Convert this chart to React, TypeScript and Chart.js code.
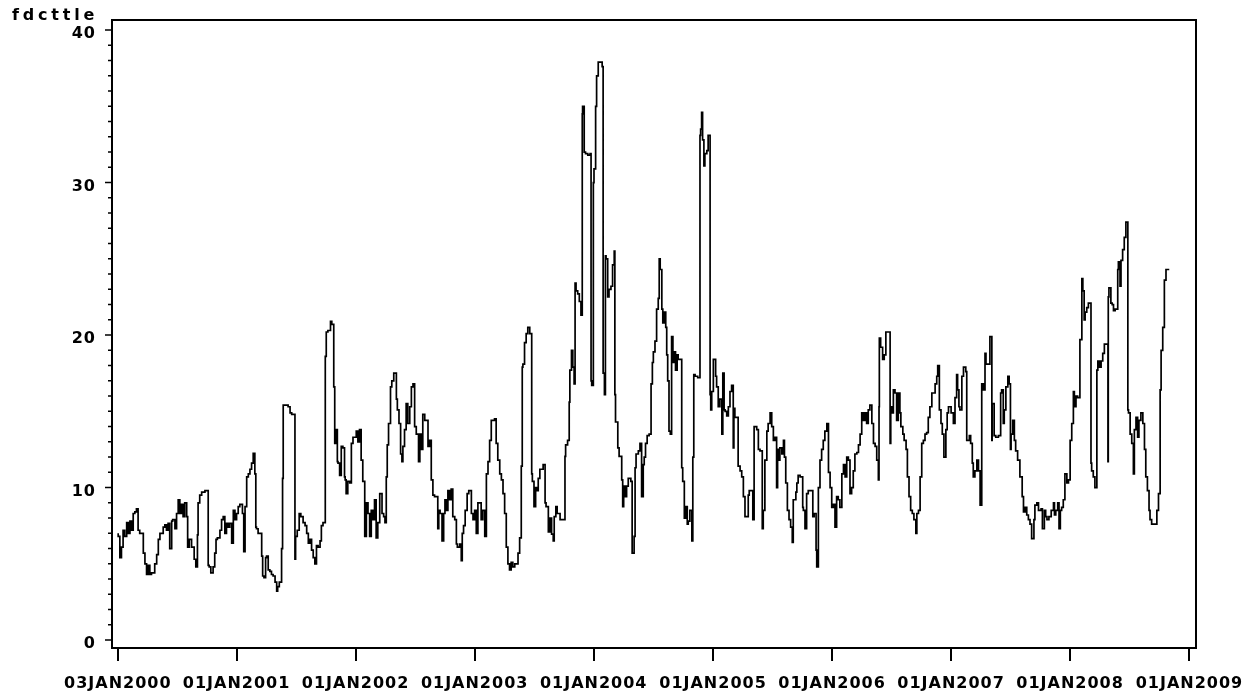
import React, { useEffect, useRef } from 'react';
import { Chart, registerables } from 'chart.js';

Chart.register(...registerables);

// Series: fdcttle, weekly-ish observations; x = days elapsed since 03JAN2000
const daysSeg1 = [
  1, 6, 11, 16, 21, 27, 32, 37, 42, 47,
  52, 57, 62, 67, 78, 83, 88, 93, 98, 103,
  113, 119, 124, 129, 139, 144, 149, 154, 159, 165,
  168, 175, 180, 185, 190, 195, 200, 205, 211, 214,
  219, 226, 234, 239, 244, 246, 251, 257, 267, 277,
  280, 285, 292, 297, 301, 305, 313, 318, 323, 328,
  333, 338, 343, 349, 354, 359, 364, 369, 374, 382,
  386, 390, 395, 400, 405, 410, 415, 420, 423, 425,
  430, 436, 441, 444, 448, 453, 456, 461, 466, 471,
  476, 482, 487, 490, 495, 502, 505, 507, 512, 522,
  528, 533, 543, 545, 550, 556, 561, 568, 574, 579,
  584, 589, 594, 599, 604, 609, 614, 620,
];
const fdcttleSeg1 = [
  7.0, 6.8, 5.4, 6.1, 7.2, 6.8, 7.7, 7.0, 7.8, 7.2,
  8.3, 8.4, 8.6, 7.2, 7.0, 5.7, 5.0, 4.3, 4.9, 4.3,
  4.4, 5.0, 5.6, 6.6, 7.0, 7.4, 7.55, 7.2, 7.65, 6.0,
  7.8, 7.9, 7.3, 8.3, 9.2, 8.3, 8.9, 8.1, 9.0, 8.1,
  6.1, 6.6, 6.1, 5.3, 4.8, 6.9, 9.0, 9.5, 9.7, 9.8,
  4.9, 4.8, 4.4, 4.8, 5.7, 6.6, 6.7, 7.2, 7.9, 8.1,
  7.0, 7.65, 7.4, 7.65, 6.35, 8.5, 7.9, 8.3, 8.75, 8.9,
  8.3, 5.8, 8.75, 10.7, 10.9, 11.2, 11.6, 12.25, 10.9, 7.4,
  7.3, 7.0, 7.0, 5.5, 4.2, 4.1, 5.4, 5.5, 4.6, 4.5,
  4.3, 4.2, 3.8, 3.2, 3.5, 3.8, 6.0, 10.6, 15.4, 15.4,
  15.3, 14.9, 14.8, 5.3, 6.8, 7.2, 8.3, 8.1, 7.7, 7.5,
  7.0, 6.35, 6.6, 5.9, 5.4, 5.0, 6.2, 6.1,
];

const daysSeg2 = [
  624, 629, 636, 639, 644, 652, 656, 662, 665, 670,
  673, 675, 680, 685, 690, 695, 697, 700, 705, 711,
  716, 721, 731, 736, 741, 746, 751, 757, 762, 767,
  772, 777, 782, 787, 792, 797, 803, 810, 815, 819,
  823, 826, 830, 836, 840, 846, 854, 857, 862, 867,
  871, 874, 879, 884, 889, 895, 900, 905, 910, 915,
  922, 926, 930, 935, 941, 951, 956, 961, 966, 971,
  981, 984, 988, 994, 999, 1003, 1007, 1012, 1017, 1022,
  1027, 1033, 1038, 1041, 1048, 1053, 1056, 1060, 1065, 1071,
  1076, 1084, 1089, 1094, 1099, 1104, 1109, 1114, 1119, 1125,
  1130, 1135, 1140, 1145, 1155, 1160, 1165, 1171, 1176, 1181,
  1186, 1191, 1196, 1201, 1206, 1211, 1217, 1227, 1232, 1237,
  1240, 1242, 1247, 1252, 1257, 1263,
];
const fdcttleSeg2 = [
  6.5, 7.5, 7.7, 18.6, 20.2, 20.3, 20.9, 20.7, 16.6, 12.9,
  13.8, 11.7, 11.6, 10.8, 12.7, 12.6, 10.7, 10.5, 9.6, 10.4,
  10.3, 12.9, 13.3, 13.7, 13.0, 13.8, 11.8, 10.4, 6.8, 9.0,
  8.3, 6.8, 8.5, 7.9, 9.2, 6.7, 7.7, 9.6, 8.3, 8.1,
  7.7, 10.7, 12.8, 14.2, 16.6, 17.0, 17.5, 15.8, 15.1, 14.2,
  12.2, 11.7, 12.7, 13.8, 15.5, 14.2, 15.3, 16.6, 16.8, 14.0,
  13.5, 11.7, 13.5, 12.5, 14.8, 14.4, 12.7, 13.1, 10.5, 9.5,
  9.4, 7.3, 8.5, 8.3, 6.5, 8.3, 9.2, 8.5, 9.8, 9.2,
  9.9, 8.1, 7.9, 6.3, 6.1, 6.3, 5.2, 7.0, 7.5, 8.5,
  9.6, 9.8, 8.3, 7.9, 8.5, 7.0, 9.0, 9.0, 7.9, 8.5,
  6.8, 10.9, 11.7, 13.1, 14.4, 14.5, 12.9, 11.8, 10.9, 10.5,
  9.6, 8.3, 6.1, 5.0, 4.6, 5.1, 4.8, 5.0, 5.7, 6.7,
  11.4, 17.9, 18.1, 19.5, 20.1, 20.5,
];

const daysSeg3 = [
  1269, 1271, 1276, 1281, 1284, 1289, 1294, 1304, 1310, 1313,
  1320, 1325, 1330, 1335, 1338, 1343, 1347, 1356, 1366, 1371,
  1373, 1379, 1384, 1386, 1391, 1395, 1399, 1402, 1405, 1410,
  1415, 1420, 1424, 1425, 1430, 1434, 1441, 1448, 1451, 1453,
  1458, 1460, 1465, 1468, 1473, 1478, 1485, 1488, 1492, 1495,
  1497, 1502, 1506, 1512, 1517, 1522, 1524, 1526, 1533, 1537,
  1545, 1548, 1551, 1555, 1560, 1565, 1573, 1577, 1583, 1586,
  1589, 1596, 1601, 1606, 1611, 1614, 1618, 1623, 1629, 1635,
  1639, 1642, 1647, 1652, 1657, 1660, 1663, 1668, 1671, 1676,
  1680, 1683, 1686, 1690, 1694, 1698, 1702, 1706, 1710, 1715,
  1718, 1729, 1732, 1737, 1741, 1746, 1749, 1754, 1760, 1763,
  1766, 1770, 1778, 1785, 1787, 1790, 1793, 1797, 1800, 1806,
  1810, 1816, 1818, 1821, 1826, 1833, 1836, 1841, 1846, 1852,
  1855, 1859, 1862, 1867, 1872, 1877,
];
const fdcttleSeg3 = [
  20.1, 10.9, 10.4, 8.75, 10.0, 9.8, 10.6, 11.2, 11.5, 9.0,
  8.75, 7.1, 8.0, 6.95, 6.5, 8.1, 8.75, 8.3, 7.9, 7.9,
  12.05, 12.8, 13.1, 15.6, 17.7, 19.0, 17.9, 16.8, 23.4, 22.9,
  22.7, 22.2, 21.3, 34.5, 35.0, 32.0, 31.9, 31.8, 31.9, 17.0,
  16.7, 30.0, 30.9, 35.0, 37.0, 37.9, 37.9, 37.6, 17.5, 16.1,
  25.2, 25.0, 22.5, 23.0, 23.2, 24.6, 25.5, 16.1, 14.3, 12.6,
  12.05, 10.5, 8.75, 10.1, 9.4, 10.1, 10.6, 10.4, 5.7, 6.8,
  11.3, 12.2, 12.4, 12.9, 9.4, 11.5, 12.0, 12.9, 13.4, 13.5,
  16.8, 18.2, 18.9, 19.6, 21.7, 22.4, 25.0, 24.3, 21.7, 20.8,
  21.5, 20.5, 18.7, 17.0, 13.7, 13.5, 19.9, 18.2, 18.9, 17.7,
  18.7, 18.4, 11.3, 10.4, 8.0, 8.75, 7.6, 7.8, 8.5, 6.5,
  12.0, 17.4, 17.3, 17.2, 33.1, 33.5, 34.6, 32.8, 31.1, 31.9,
  32.1, 33.1, 16.1, 15.1, 16.3, 18.4, 17.3, 16.6, 15.3, 15.8,
  13.5, 17.5, 15.1, 15.0, 14.7, 15.3,
];

const daysSeg4 = [
  1882, 1887, 1889, 1892, 1898, 1902, 1908, 1913, 1918, 1923,
  1926, 1933, 1936, 1941, 1947, 1951, 1953, 1959, 1964, 1969,
  1976, 1979, 1984, 1990, 1994, 2000, 2005, 2010, 2015, 2020,
  2023, 2027, 2030, 2036, 2041, 2044, 2048, 2053, 2058, 2063,
  2068, 2071, 2074, 2079, 2082, 2086, 2092, 2100, 2102, 2107,
  2112, 2117, 2122, 2131, 2135, 2141, 2143, 2148, 2153, 2158,
  2163, 2168, 2174, 2179, 2184, 2189, 2194, 2199, 2204, 2209,
  2214, 2220, 2225, 2230, 2235, 2240, 2245, 2250, 2255, 2260,
  2266, 2271, 2276, 2281, 2286, 2291, 2296, 2301, 2306, 2312,
  2317, 2322, 2327, 2332, 2334, 2335, 2339, 2345, 2350, 2355,
  2359, 2368, 2370, 2373, 2378, 2383, 2388, 2393, 2398, 2401,
  2407, 2411, 2417, 2421, 2426, 2431, 2436, 2441, 2447, 2450,
  2455, 2460, 2465, 2470, 2475, 2480, 2485, 2490, 2496, 2501,
  2506,
];
const fdcttleSeg4 = [
  16.3, 16.7, 12.6, 15.2, 14.6, 14.6, 11.4, 11.1, 10.7, 9.4,
  8.1, 8.1, 9.5, 9.8, 9.8, 7.9, 14.0, 14.0, 13.8, 12.5,
  12.4, 7.3, 8.5, 11.8, 13.7, 14.2, 14.9, 14.0, 13.1, 13.3,
  10.0, 12.5, 11.8, 12.6, 12.2, 13.1, 12.0, 10.3, 8.5, 7.9,
  7.4, 6.4, 9.2, 9.2, 9.7, 10.3, 10.8, 10.7, 8.7, 8.5,
  7.3, 9.6, 9.8, 9.8, 8.1, 8.3, 5.9, 4.8, 10.0, 11.8,
  12.5, 13.1, 13.7, 14.2, 11.0, 10.0, 8.7, 8.9, 7.4, 9.4,
  9.2, 8.7, 10.9, 11.5, 10.7, 12.0, 11.8, 9.6, 10.0, 11.1,
  12.2, 12.3, 12.8, 13.5, 14.9, 14.4, 14.9, 14.2, 15.1, 15.4,
  14.2, 12.9, 12.7, 11.8, 10.5, 15.3, 19.8, 19.2, 18.4, 18.7,
  20.2, 20.2, 12.9, 15.3, 14.9, 16.4, 16.2, 14.4, 16.2, 14.9,
  14.0, 13.5, 13.1, 12.5, 10.7, 9.4, 8.5, 8.3, 7.9, 7.0,
  8.3, 8.5, 10.7, 12.9, 13.1, 13.5, 13.6, 14.6, 15.3, 16.2,
  16.2,
];

const daysSeg5 = [
  2511, 2514, 2519, 2524, 2528, 2533, 2539, 2543, 2547, 2555,
  2562, 2567, 2572, 2575, 2579, 2582, 2588, 2593, 2600, 2603,
  2605, 2611, 2615, 2620, 2623, 2628, 2634, 2639, 2644, 2649,
  2654, 2659, 2662, 2667, 2674, 2680, 2681, 2687, 2692, 2700,
  2707, 2710, 2715, 2718, 2723, 2729, 2733, 2737, 2739, 2744,
  2749, 2753, 2759, 2766, 2773, 2777, 2782, 2787, 2792, 2797,
  2802, 2809, 2812, 2818, 2823, 2831, 2835, 2841, 2845, 2849,
  2855, 2862, 2869, 2872, 2876, 2882, 2886, 2890, 2894, 2899,
  2904, 2910, 2915, 2920, 2925, 2930, 2933, 2938, 2943, 2950,
  2956, 2959, 2963, 2966, 2971, 2976, 2984, 2986, 2991, 2996,
  3002, 3005, 3010, 3015, 3020, 3025, 3030, 3036, 3037, 3039,
  3045, 3049, 3053, 3058, 3066, 3068, 3073, 3076, 3081, 3086,
  3091, 3097, 3099, 3104, 3109, 3114, 3117, 3122, 3127, 3131,
  3137, 3143, 3148, 3152, 3157, 3162, 3165, 3170, 3175, 3186,
  3191, 3196, 3199, 3204, 3209, 3214, 3219, 3224,
];
const fdcttleSeg5 = [
  16.8, 17.3, 18.0, 15.1, 14.2, 13.5, 12.0, 13.8, 14.9, 15.3,
  14.9, 14.2, 15.9, 17.4, 16.4, 15.3, 15.1, 17.3, 17.9, 17.6,
  13.1, 13.1, 13.4, 12.9, 11.6, 10.7, 11.1, 11.8, 11.1, 8.85,
  16.8, 16.4, 18.8, 18.1, 18.1, 19.9, 13.1, 15.5, 13.4, 13.3,
  13.4, 16.2, 16.4, 14.2, 15.1, 16.6, 17.3, 16.8, 12.5, 13.5,
  14.4, 13.1, 12.4, 11.8, 10.7, 9.4, 8.4, 8.7, 8.2, 7.9,
  7.6, 6.65, 7.9, 8.85, 9.0, 8.5, 8.6, 7.3, 8.5, 8.1,
  7.9, 8.1, 8.5, 9.0, 8.2, 8.5, 9.0, 7.3, 8.5, 8.7,
  9.2, 10.9, 10.3, 10.5, 13.1, 14.2, 16.3, 15.3, 16.0, 15.9,
  19.7, 23.7, 22.9, 21.0, 21.5, 21.8, 22.1, 11.6, 11.1, 10.7,
  10.0, 17.7, 18.3, 17.9, 18.3, 18.8, 19.4, 19.4, 11.7, 22.5,
  23.1, 22.1, 22.0, 21.6, 21.7, 24.3, 24.8, 23.2, 24.9, 25.6,
  26.4, 27.4, 15.1, 14.9, 13.5, 12.9, 10.9, 13.8, 14.6, 13.3,
  14.4, 14.9, 14.2, 12.5, 10.7, 9.8, 8.5, 7.9, 7.6, 7.6,
  8.5, 9.6, 16.4, 19.0, 20.5, 23.6, 24.3, 24.3,
];

// X axis: tick positions (days since 03JAN2000) and labels
const xTickDays = [0, 364, 729, 1094, 1459, 1825, 2190, 2555, 2920, 3286];
const xTickLabels = [
  '03JAN2000', '01JAN2001', '01JAN2002', '01JAN2003', '01JAN2004',
  '01JAN2005', '01JAN2006', '01JAN2007', '01JAN2008', '01JAN2009',
];
const xRange = [-18, 3306];

// Y axis
const yTickValues = [0, 10, 20, 30, 40];
const yRange = [-0.52, 40.66];
const yLabel = 'fdcttle';

const dayOffsets = [...daysSeg1, ...daysSeg2, ...daysSeg3, ...daysSeg4, ...daysSeg5];
const fdcttleValues = [...fdcttleSeg1, ...fdcttleSeg2, ...fdcttleSeg3, ...fdcttleSeg4, ...fdcttleSeg5];

const TICK_FONT = { family: '"DejaVu Sans", sans-serif', weight: 'bold' as const, size: 16 };

const decorPlugin = {
  id: 'sasDecor',
  beforeDraw(chart: any) {
    const ctx = chart.ctx;
    ctx.letterSpacing = '1px';
  },
  afterDraw(chart: any) {
    const ctx = chart.ctx as CanvasRenderingContext2D;
    const { left, right, top, bottom } = chart.chartArea;
    const xs = chart.scales.x;
    const ys = chart.scales.y;
    ctx.save();
    ctx.strokeStyle = '#000';
    // frame
    ctx.lineWidth = 2;
    ctx.strokeRect(left, top, right - left, bottom - top);
    // x ticks
    ctx.lineWidth = 2;
    ctx.beginPath();
    for (const d of xTickDays) {
      const px = Math.round(xs.getPixelForValue(d));
      ctx.moveTo(px, bottom + 1);
      ctx.lineTo(px, bottom + 13);
    }
    ctx.stroke();
    // y ticks (major every 10, minor every 1)
    ctx.lineWidth = 1.5;
    ctx.beginPath();
    for (let v = Math.ceil(yRange[0]); v <= Math.floor(yRange[1]); v++) {
      const py = ys.getPixelForValue(v);
      const len = v % 10 === 0 ? 7 : 4;
      ctx.moveTo(left - len, py);
      ctx.lineTo(left, py);
    }
    ctx.stroke();
    // axis label at top-left
    (ctx as any).letterSpacing = '3.8px';
    ctx.fillStyle = '#000';
    ctx.font = 'bold 16px "DejaVu Sans", sans-serif';
    ctx.textAlign = 'left';
    ctx.textBaseline = 'alphabetic';
    ctx.fillText(yLabel, 12, 20);
    ctx.restore();
  },
};

export default function App() {
  const canvasRef = useRef<HTMLCanvasElement | null>(null);

  useEffect(() => {
    const canvas = canvasRef.current;
    if (!canvas) return;
    const n = Math.min(dayOffsets.length, fdcttleValues.length);
    const points = [];
    for (let i = 0; i < n; i++) points.push({ x: dayOffsets[i], y: fdcttleValues[i] });

    const chart = new Chart(canvas, {
      type: 'line',
      data: {
        datasets: [
          {
            label: yLabel,
            data: points,
            borderColor: '#000',
            borderWidth: 1.7,
            borderJoinStyle: 'miter',
            stepped: 'after',
            pointRadius: 0,
            tension: 0,
            fill: false,
          },
        ],
      },
      options: {
        responsive: false,
        maintainAspectRatio: false,
        animation: false,
        devicePixelRatio: 1,
        events: [],
        layout: { padding: { left: 0, top: 20, right: 61, bottom: 0 } },
        plugins: { legend: { display: false }, tooltip: { enabled: false }, title: { display: false } },
        scales: {
          x: {
            type: 'linear',
            bounds: 'data',
            min: xRange[0],
            max: xRange[1],
            afterBuildTicks: (s: any) => {
              s.ticks = xTickDays.map((v) => ({ value: v }));
            },
            afterFit: (s: any) => {
              s.height = 50;
            },
            ticks: {
              autoSkip: false,
              maxRotation: 0,
              minRotation: 0,
              padding: 13,
              color: '#000',
              font: TICK_FONT,
              callback: (_v: any, i: number) => xTickLabels[i],
            },
            grid: { display: true, drawOnChartArea: false, drawTicks: true, tickLength: 13, color: 'rgba(0,0,0,0)' },
            border: { display: false },
          },
          y: {
            type: 'linear',
            bounds: 'data',
            min: yRange[0],
            max: yRange[1],
            afterBuildTicks: (s: any) => {
              s.ticks = yTickValues.map((v) => ({ value: v }));
            },
            afterFit: (s: any) => {
              s.width = 112;
            },
            ticks: {
              padding: 9,
              labelOffset: 4,
              color: '#000',
              font: TICK_FONT,
              callback: (v: any) => String(v),
            },
            grid: { display: true, drawOnChartArea: false, drawTicks: true, tickLength: 7, color: 'rgba(0,0,0,0)' },
            border: { display: false },
          },
        },
      } as any,
      plugins: [decorPlugin],
    });

    return () => chart.destroy();
  }, []);

  return (
    <div style={{ position: 'absolute', left: 0, top: 0, width: 1257, height: 698, background: '#fff' }}>
      <canvas ref={canvasRef} width={1257} height={698} style={{ display: 'block', width: 1257, height: 698 }} />
    </div>
  );
}
